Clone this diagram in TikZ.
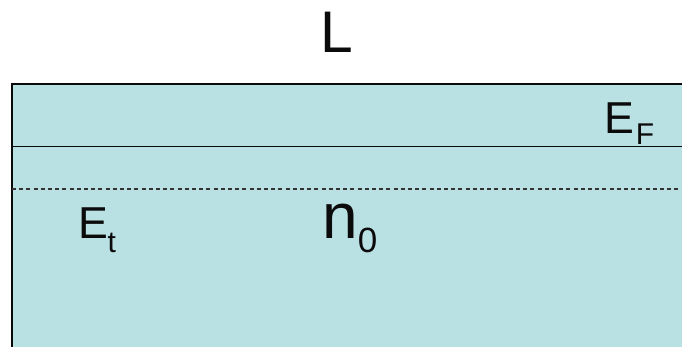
\documentclass[tikz,border=0pt]{standalone}
\usepackage{fontspec}
\setmainfont{Liberation Sans}
\usetikzlibrary{positioning}
\definecolor{bandfill}{HTML}{B9E0E3}
\definecolor{ink}{HTML}{0B0B0B}
\definecolor{dashgray}{HTML}{333333}

\begin{document}
\begin{tikzpicture}[
  x=1pt, y=-1pt,
  edge/.style={draw=ink, line width=1.3pt},
  level/.style={draw=ink, line width=1pt},
  trap/.style={draw=dashgray, line width=1.1pt, dash pattern=on 4pt off 3.2pt},
  big/.style={anchor=base west, inner sep=0pt, text=ink},
  sub/.style={anchor=base west, inner sep=0pt, text=ink, font=\fontsize{30}{30}\selectfont}
]
\useasboundingbox (0,0) rectangle (682,347);

\fill[bandfill] (12,84) rectangle (682,347);
\draw[edge] (682,84) -- (12,84) -- (12,347);
\draw[level] (12,147) -- (682,147);
\draw[trap] (12,189) -- (682,189);

\node[big, font=\fontsize{58.7}{60}\selectfont] (len) at (320.7,53) {L};

\node[big, font=\fontsize{44.7}{46}\selectfont] (ef) at (604.5,134) {E};
\node[sub] (efsub) at (635.6,145) {F};

\node[big, font=\fontsize{44.7}{46}\selectfont] (et) at (78.5,239) {E};
\node[sub] (etsub) at (107.5,252) {t};

\node[big, font=\fontsize{64}{66}\selectfont] (nz) at (321.8,239) {n};
\node[sub, font=\fontsize{35}{35}\selectfont] (nzsub) at (357.6,253) {0};
\end{tikzpicture}
\end{document}
